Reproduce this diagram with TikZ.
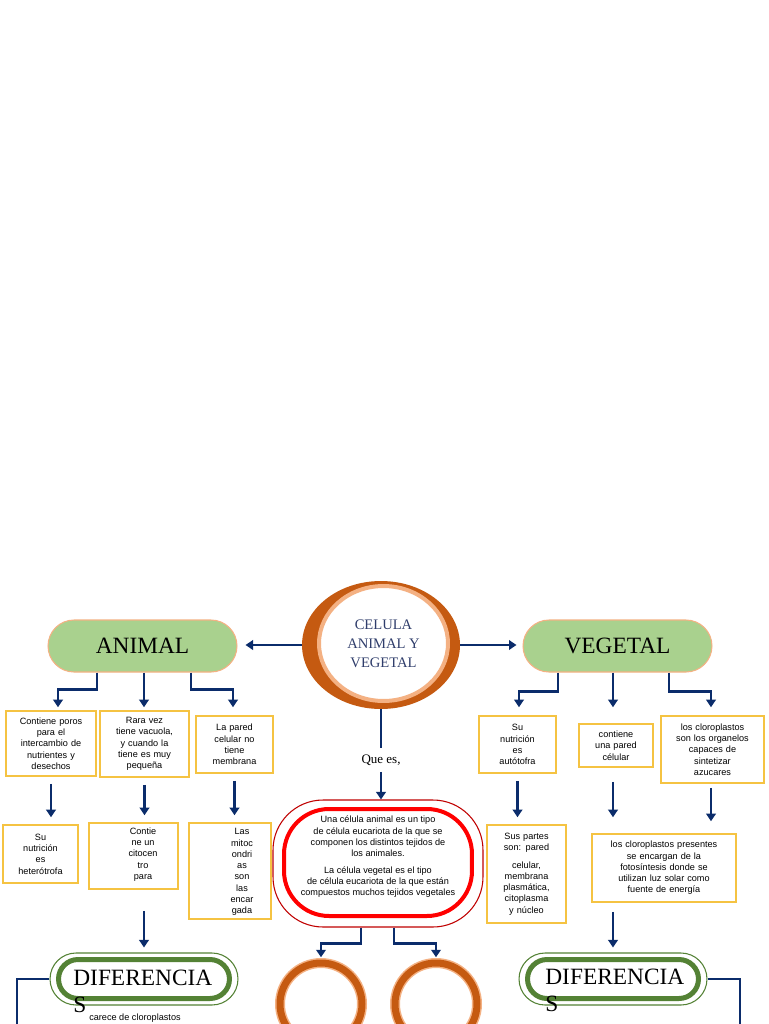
\documentclass[tikz,border=0pt]{standalone}
\usepackage{fontspec}
\setmainfont{Liberation Serif}
\setsansfont{Liberation Sans}
\usepackage{tikz}
\usetikzlibrary{shapes.geometric, arrows.meta, calc}
\definecolor{navy}{HTML}{0B2C6B}
\definecolor{gold}{HTML}{F5C342}
\definecolor{leaf}{HTML}{A9D18E}
\definecolor{peach}{HTML}{F4B183}
\definecolor{rust}{HTML}{C55A11}
\definecolor{wine}{HTML}{C00000}
\definecolor{moss}{HTML}{548235}
\definecolor{slate}{HTML}{2F3D6B}

\begin{document}
\begin{tikzpicture}[
  x=0.02cm, y=-0.02cm,
  pill/.style={rectangle, rounded corners=0.52cm, draw=peach, line width=0.6pt, fill=leaf, minimum width=3.78cm, minimum height=1.04cm, font=\fontsize{13.3}{16}\selectfont},
  box/.style={rectangle, draw=gold, line width=0.9pt, fill=white, align=center, inner xsep=0pt, inner ysep=1pt, font=\sffamily\fontsize{5.2}{6.4}\selectfont},
  boxtext/.style={align=center, inner sep=0pt, font=\sffamily\fontsize{5.2}{6.4}\selectfont},
  hoop/.style={circle, draw=peach, line width=0.03cm, double=rust, double distance=0.14cm, minimum size=1.64cm, inner sep=0pt},
  diffout/.style={rectangle, rounded corners=0.52cm, draw=moss, line width=0.6pt, minimum width=3.76cm, minimum height=1.04cm},
  diffin/.style={rectangle, rounded corners=0.39cm, draw=moss, line width=0.1cm, fill=white, minimum width=3.42cm, minimum height=0.78cm},
  difftext/.style={anchor=north west, inner sep=0pt, align=left, font=\fontsize{13.3}{15.4}\selectfont},
  arrow/.style={-{Triangle[length=0.15cm, width=0.19cm]}, line width=0.05cm, color=navy},
  link/.style={line width=0.05cm, color=navy}
]
\useasboundingbox (0,0) rectangle (768,1024);
\clip (0,0) rectangle (768,1024);
\fill[white] (0,0) rectangle (768,1024);

% Centre
\node[ellipse, fill=rust, minimum width=3.16cm, minimum height=2.56cm, inner sep=0pt] (halo) at (381,645) {};
\node[ellipse, fill=white, draw=peach, line width=0.08cm, minimum width=2.58cm, minimum height=2.30cm, inner sep=0pt, align=center, text=slate, font=\fontsize{8.3}{10.8}\selectfont] (cell) at (383.5,643.5) {CELULA\\ANIMAL Y\\VEGETAL};

% Animal / Vegetal
\node[pill] (animal) at (142.5,646) {ANIMAL};
\node[pill] (vegetal) at (617.5,646) {VEGETAL};

% Animal boxes
\node[box, text width=1.80cm, minimum height=1.30cm] (a1) at (51,743.5) {Contiene poros\\para el\\intercambio de\\nutrientes y\\desechos};
\node[box, text width=1.78cm, minimum height=1.32cm] (a2) at (144.5,744) {Rara vez\\tiene vacuola,\\y cuando la\\tiene es muy\\pequeña};
\node[box, text width=1.54cm, minimum height=1.14cm] (a3) at (234.5,744.5) {La pared\\celular no\\tiene\\membrana};
\node[box, text width=1.50cm, minimum height=1.16cm] (a4) at (40.5,854) {Su\\nutrición\\es\\heterótrofa};
\node[box, text width=1.78cm, minimum height=1.32cm] (a5) at (133.5,856) {};
\node[boxtext] (a5txt) at (143,854.5) {Contie\\ne un\\citocen\\tro\\para};
\node[box, text width=1.64cm, minimum height=1.92cm] (a6) at (230,871) {};
\node[boxtext] (a6txt) at (242,872) {Las\\mitoc\\ondri\\as\\son\\las\\encar\\gada};

% Vegetal boxes
\node[box, text width=1.54cm, minimum height=1.14cm] (v1) at (517.5,744.5) {Su\\nutrición\\es\\autótofra};
\node[box, text width=1.48cm, minimum height=0.86cm] (v2) at (616,745.5) {contiene\\una pared\\célular};
\node[box, text width=2.06cm, minimum height=1.34cm] (v3) at (712.5,749.5) {los cloroplastos\\son los organelos\\capaces de\\sintetizar\\azucares};
\node[box, text width=1.58cm, minimum height=1.96cm] (v4) at (526.5,874) {Sus partes\\son: pared\\[0.13cm]celular,\\membrana\\plasmática,\\citoplasma\\y núcleo};
\node[box, text width=2.88cm, minimum height=1.36cm] (v5) at (664,868) {los cloroplastos presentes\\se encargan de la\\fotosíntesis donde se\\utilizan luz solar como\\fuente de energía};

% Definition
\node[font=\fontsize{7.4}{9}\selectfont, inner ysep=3.5pt] (que) at (381,760) {Que es,};
\node[rectangle, rounded corners=1.0cm, draw=wine, line width=0.6pt, fill=white, minimum width=4.2cm, minimum height=2.54cm] (def) at (378,863.5) {};
\node[rectangle, rounded corners=0.9cm, draw=red, line width=0.08cm, minimum width=3.76cm, minimum height=2.14cm] (defin) at (378,862.5) {};
\node[boxtext] (deftxt) at (378,857) {Una célula animal es un tipo\\de célula eucariota de la que se\\componen los distintos tejidos de\\los animales.\\[0.11cm]La célula vegetal es el tipo\\de célula eucariota de la que están\\compuestos muchos tejidos vegetales};
\node[hoop] (c1) at (321,1004) {};
\node[hoop] (c2) at (436,1004) {};

% Diferencias
\node[diffout] (difA) at (144,979) {};
\node[diffin] (difAin) at (144,979) {};
\node[difftext] (difAtxt) at (73,969.5) {DIFERENCIA\\S};
\node[diffout] (difB) at (613,979) {};
\node[diffin] (difBin) at (613,979) {};
\node[difftext] (difBtxt) at (545,969) {DIFERENCIA\\S};
\node[boxtext, anchor=base] (carece) at (135,1020.5) {carece de cloroplastos};
\coordinate (difAend) at (17,1040);
\coordinate (difBend) at (740,1040);

% Arrows
\draw[arrow, shorten >=0.16cm] (halo.west) -- (halo.west -| animal.east);
\draw[arrow, shorten >=0.12cm] (halo.east) -- (halo.east -| vegetal.west);
\draw[arrow] ($(animal.south)+(-45.5,0)$) -- ++(0,17) -| ($(a1.north)+(7,-3)$);
\draw[arrow, shorten >=0.06cm] ($(animal.south)+(1.5,0)$) -- ($(animal.south |- a2.north)+(1.5,0)$);
\draw[arrow] ($(animal.south)+(48.5,0)$) -- ++(0,17) -| ($(a3.north)+(-1.5,-8)$);
\draw[arrow, shorten <=0.14cm, shorten >=0.14cm] (a1.south) -- (a1.south |- a4.north);
\draw[arrow, shorten <=0.14cm, shorten >=0.14cm] (a2.south) -- (a2.south |- a5.north);
\draw[arrow, shorten <=0.14cm, shorten >=0.14cm] (a3.south) -- (a3.south |- a6.north);
\draw[arrow, shorten <=0.42cm, shorten >=0.1cm] (difA.north |- a5.south) -- (difA.north);
\draw[arrow] ($(vegetal.south)+(-59.5,0)$) -- ++(0,19) -| ($(v1.north)+(1.5,-8)$);
\draw[arrow] ($(vegetal.south)+(-4.5,0)$) -- ($(v2.north)+(-3,-16)$);
\draw[arrow] ($(vegetal.south)+(51.5,0)$) -- ++(0,19) -| ($(v3.north)+(-1.5,-8)$);
\draw[arrow, shorten <=0.14cm, shorten >=0.14cm] (v1.south) -- (v1.south |- v4.north);
\draw[arrow, shorten <=0.28cm, shorten >=0.32cm] ($(v2.south)+(-3,0)$) -- ($(v2.south |- v5.north)+(-3,0)$);
\draw[arrow, shorten <=0.08cm, shorten >=0.24cm] ($(v3.south)+(-1.5,0)$) -- ($(v3.south |- v5.north)+(-1.5,0)$);
\draw[arrow, shorten <=0.18cm, shorten >=0.1cm] (difB.north |- v5.south) -- (difB.north);
\draw[link] (halo.south) -- (que.north);
\draw[arrow] (que.south) -- (que.south |- def.north);
\draw[arrow, shorten >=0.1cm] ($(def.south)+(-17,0)$) -- ++(0,16) -| (c1.north);
\draw[arrow, shorten >=0.1cm] ($(def.south)+(16,0)$) -- ++(0,16) -| (c2.north);
\draw[link] (difA.west) -| (difAend);
\draw[link] (difB.east) -| (difBend);

\end{tikzpicture}
\end{document}
